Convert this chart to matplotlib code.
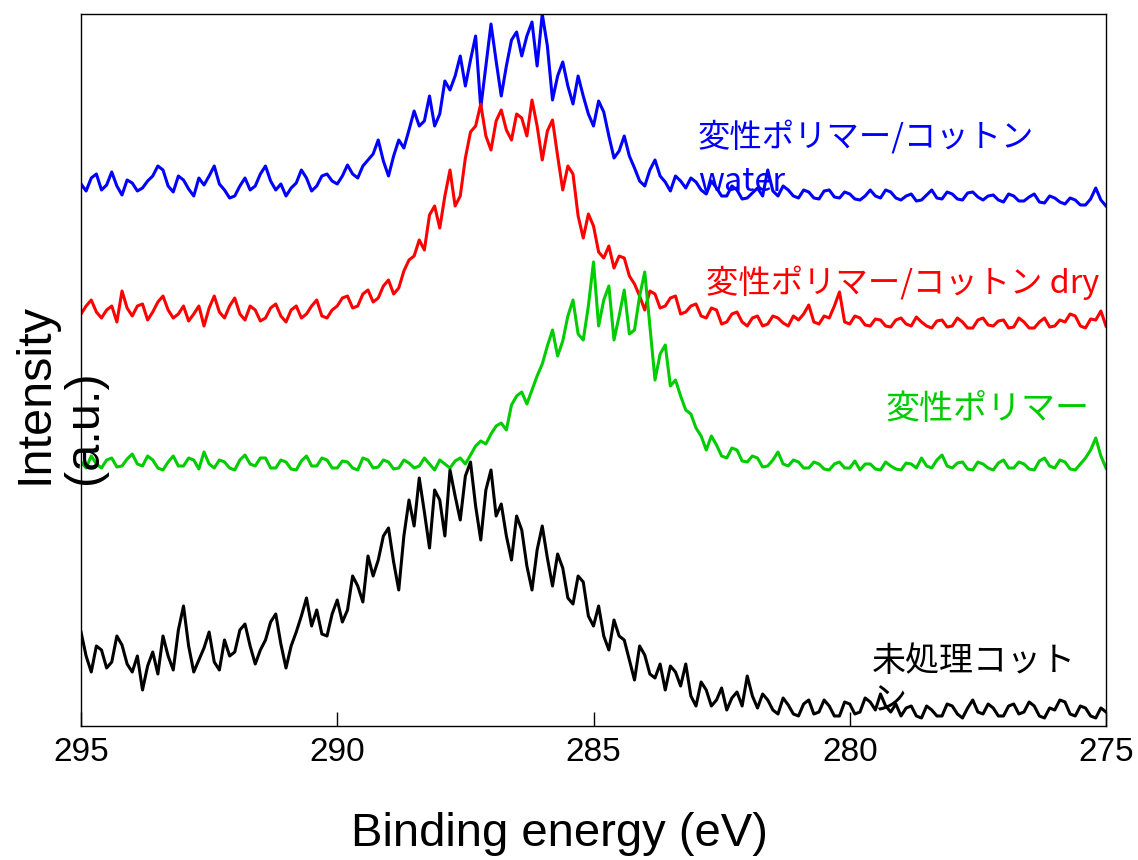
import numpy as np
import matplotlib
matplotlib.use("Agg")
import matplotlib.pyplot as plt

# binding energy grid (eV), 295 -> 275 in 0.1 eV steps
energy = np.round(np.linspace(295.0, 275.0, 201), 2)

# intensities (a.u.), already offset per spectrum
polymer_cotton_water = [
    542, 535, 548, 552, 536, 541, 554, 540, 531, 546, 543, 535, 538, 545, 550, 560, 556, 540, 534, 550,
    546, 537, 530, 548, 541, 550, 560, 542, 536, 528, 530, 540, 548, 536, 540, 552, 560, 545, 536, 542,
    530, 538, 543, 556, 548, 535, 540, 550, 552, 545, 542, 550, 561, 552, 548, 560, 566, 572, 586, 565,
    550, 570, 586, 578, 596, 615, 600, 605, 630, 600, 612, 645, 636, 650, 670, 640, 666, 690, 618, 660,
    702, 665, 630, 660, 686, 694, 670, 690, 704, 660, 712, 680, 626, 650, 664, 640, 622, 650, 630, 612,
    600, 625, 614, 590, 568, 575, 590, 570, 558, 545, 540, 556, 566, 550, 544, 535, 550, 545, 538, 548,
    544, 536, 532, 545, 538, 530, 530, 540, 536, 527, 528, 533, 538, 530, 556, 535, 530, 540, 536, 530,
    528, 536, 534, 528, 527, 535, 536, 529, 528, 534, 532, 527, 526, 530, 536, 530, 528, 536, 534, 528,
    526, 530, 532, 525, 526, 531, 536, 528, 527, 534, 532, 527, 526, 533, 534, 529, 526, 530, 531, 526,
    524, 532, 530, 525, 525, 529, 532, 524, 523, 530, 528, 524, 522, 528, 526, 521, 521, 527, 538, 526,
    520,
]
polymer_cotton_dry = [
    412, 420, 426, 414, 408, 416, 420, 404, 435, 418, 410, 420, 422, 406, 414, 424, 430, 416, 408, 412,
    420, 405, 412, 420, 400, 418, 430, 414, 408, 420, 428, 412, 406, 420, 416, 405, 408, 418, 422, 410,
    404, 416, 420, 408, 412, 420, 426, 410, 408, 416, 420, 428, 430, 418, 420, 432, 436, 424, 428, 440,
    446, 432, 438, 455, 466, 470, 486, 476, 511, 520, 498, 530, 556, 520, 530, 568, 594, 600, 622, 590,
    576, 605, 616, 596, 586, 612, 608, 590, 626, 600, 566, 595, 606, 570, 536, 560, 552, 510, 488, 512,
    500, 474, 468, 480, 458, 470, 468, 450, 442, 430, 416, 435, 432, 418, 420, 428, 430, 412, 414, 420,
    422, 410, 408, 418, 416, 402, 404, 412, 414, 404, 400, 408, 410, 400, 402, 410, 408, 403, 400, 410,
    406, 412, 421, 404, 402, 410, 408, 420, 434, 404, 402, 410, 408, 401, 400, 407, 406, 400, 399, 406,
    408, 402, 400, 409, 404, 400, 398, 405, 406, 399, 400, 408, 404, 398, 398, 406, 408, 401, 400, 405,
    406, 398, 399, 408, 404, 398, 398, 404, 408, 399, 400, 406, 404, 412, 410, 400, 398, 407, 406, 415,
    400,
]
polymer = [
    264, 258, 270, 262, 258, 266, 268, 259, 260, 267, 272, 262, 260, 270, 266, 258, 256, 264, 270, 260,
    260, 268, 266, 257, 274, 262, 258, 266, 264, 258, 256, 266, 271, 262, 260, 268, 268, 258, 258, 266,
    264, 257, 256, 265, 270, 260, 260, 268, 266, 258, 258, 265, 264, 258, 256, 268, 266, 258, 259, 266,
    264, 257, 258, 266, 263, 258, 260, 268, 262, 256, 266, 262, 258, 265, 268, 262, 271, 280, 285, 282,
    292, 300, 303, 296, 321, 330, 334, 322, 336, 350, 362, 380, 396, 370, 385, 410, 426, 392, 386, 420,
    464, 400, 426, 440, 386, 410, 436, 392, 396, 430, 454, 400, 346, 372, 381, 340, 346, 330, 316, 312,
    298, 290, 276, 290, 281, 270, 268, 278, 276, 265, 264, 270, 268, 259, 260, 266, 274, 262, 260, 266,
    264, 258, 258, 264, 262, 257, 256, 262, 264, 258, 258, 265, 256, 262, 262, 257, 256, 264, 260, 257,
    256, 263, 262, 258, 268, 260, 258, 266, 271, 260, 258, 263, 264, 257, 256, 264, 262, 258, 256, 263,
    266, 258, 258, 264, 262, 257, 256, 265, 268, 260, 258, 266, 264, 257, 256, 262, 268, 276, 288, 270,
    258,
]
untreated_cotton = [
    94, 70, 54, 80, 76, 58, 64, 90, 81, 62, 54, 70, 36, 60, 74, 52, 90, 70, 56, 96,
    120, 80, 54, 66, 78, 94, 64, 56, 86, 70, 74, 96, 102, 80, 62, 76, 86, 104, 112, 82,
    58, 80, 94, 110, 128, 100, 116, 92, 90, 112, 126, 104, 116, 150, 140, 124, 170, 150, 166, 190,
    198, 164, 136, 190, 226, 200, 248, 214, 178, 236, 226, 190, 256, 230, 206, 250, 264, 220, 186, 236,
    256, 210, 222, 190, 166, 210, 196, 160, 136, 176, 200, 168, 140, 172, 158, 128, 122, 150, 144, 110,
    100, 120, 90, 76, 106, 90, 86, 66, 46, 80, 71, 52, 48, 62, 36, 60, 54, 40, 62, 30,
    20, 44, 36, 20, 26, 38, 16, 28, 34, 20, 50, 30, 18, 32, 26, 16, 12, 28, 21, 12,
    10, 22, 26, 12, 14, 26, 20, 10, 10, 24, 22, 12, 14, 28, 24, 16, 32, 20, 14, 22,
    10, 18, 20, 10, 8, 20, 16, 10, 10, 22, 20, 12, 8, 18, 26, 14, 12, 22, 18, 10,
    10, 20, 22, 12, 14, 24, 20, 10, 8, 18, 16, 26, 24, 12, 10, 20, 18, 10, 8, 18,
    14,
]

series = [
    (polymer_cotton_water, "#0000ff"),
    (polymer_cotton_dry, "#ff0000"),
    (polymer, "#00cc00"),
    (untreated_cotton, "#000000"),
]

fig = plt.figure(figsize=(11.38, 8.6), dpi=100)
ax = fig.add_axes([81 / 1138, 134 / 860, 1025 / 1138, 712 / 860])

for values, color in series:
    ax.plot(energy, values, color=color, linewidth=2.2)

ax.set_xlim(295, 275)
ax.set_ylim(0, 712)
ax.set_yticks([])
ax.set_xticks([295, 290, 285, 280, 275])
ax.tick_params(axis="x", direction="in", length=10, width=1, labelsize=24, pad=8)
for lbl in ax.get_xticklabels():
    lbl.set_family("Liberation Sans")
for sp in ax.spines.values():
    sp.set_linewidth(1.0)

jp = ["Noto Sans CJK JP", "DejaVu Sans"]
ax.text(282.96, 606, "変性ポリマー/コットン\nwater", color="#0000ff", fontsize=23.3,
        family=jp, va="top", ha="left", linespacing=1.5)
ax.text(282.8, 443, "変性ポリマー/コットン dry", color="#ff0000", fontsize=23.3,
        family=jp, va="center", ha="left")
ax.text(279.31, 316, "変性ポリマー", color="#00cc00", fontsize=24.5,
        family=jp, va="center", ha="left")
ax.text(279.57, 82, "未処理コット\nン", color="#000000", fontsize=24.5,
        family=jp, va="top", ha="left", linespacing=1.15)

fig.text(559 / 1138, 26 / 860, "Binding energy (eV)", fontsize=34,
         family="Liberation Sans", ha="center", va="center")
fig.text(12 / 1138, (860 - 484) / 860, "Intensity\n(a.u.)", fontsize=35,
         family="Liberation Sans", rotation=90, ha="left", va="bottom",
         multialignment="left", linespacing=1.15)

fig.savefig("out.png", dpi=100)
